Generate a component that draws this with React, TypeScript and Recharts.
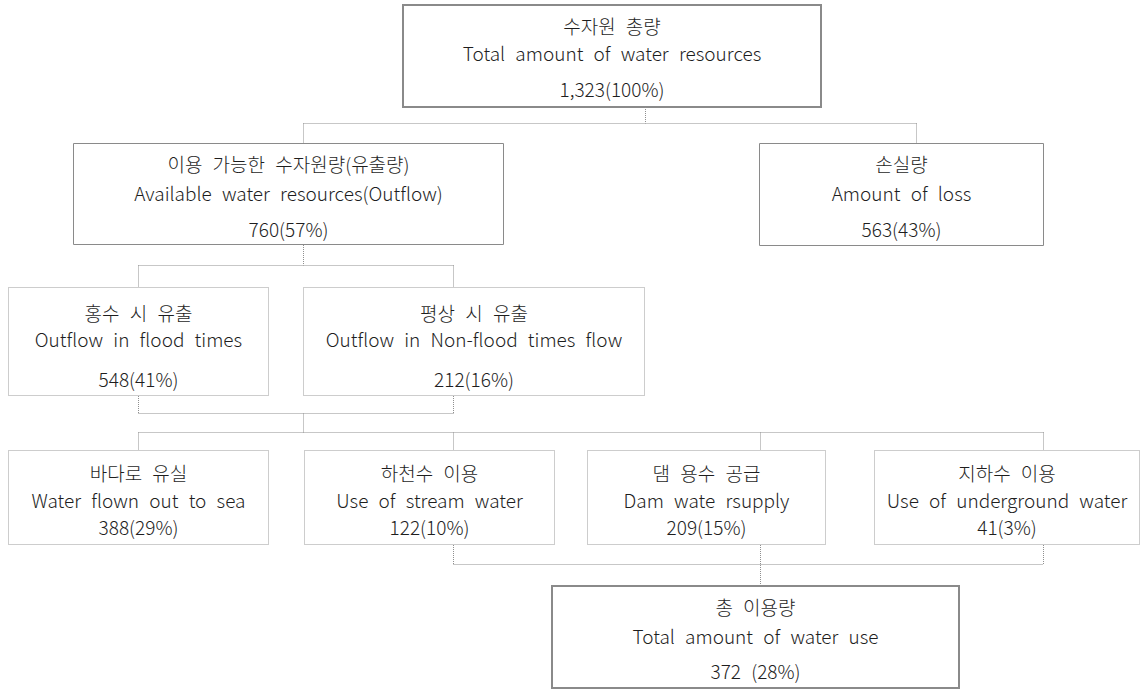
import { ScatterChart, Scatter, XAxis, YAxis, ReferenceArea, ReferenceLine } from 'recharts';

// node texts and values
const nodeKo = [
  '수자원 총량',
  '이용 가능한 수자원량(유출량)',
  '손실량',
  '홍수 시 유출',
  '평상 시 유출',
  '바다로 유실',
  '하천수 이용',
  '댐 용수 공급',
  '지하수 이용',
  '총 이용량',
];
const nodeEn = [
  'Total amount of water resources',
  'Available water resources(Outflow)',
  'Amount of loss',
  'Outflow in flood times',
  'Outflow in Non-flood times flow',
  'Water flown out to sea',
  'Use of stream water',
  'Dam wate rsupply',
  'Use of underground water',
  'Total amount of water use',
];
const nodeAmount = [1323, 760, 563, 548, 212, 388, 122, 209, 41, 372];
const nodeShare = [100, 57, 43, 41, 16, 29, 10, 15, 3, 28];
const nodeValueGap = ['', '', '', '', '', '', '', '', '', ' '];

// box layout in chart units (0..1140 x 0..689, y downward)
const boxes = [
  { x1: 403, x2: 821, y1: 5, y2: 107, lines: [25, 52, 88], kind: 'thick' },
  { x1: 73.5, x2: 503.5, y1: 143.5, y2: 244.5, lines: [163, 192, 228], kind: 'solid' },
  { x1: 759.5, x2: 1043.5, y1: 143.5, y2: 245.5, lines: [163, 192, 228], kind: 'solid' },
  { x1: 8.5, x2: 268.5, y1: 287.5, y2: 395.5, lines: [312, 338, 378], kind: 'dotted' },
  { x1: 303.5, x2: 644.5, y1: 287.5, y2: 395.5, lines: [312, 338, 378], kind: 'dotted' },
  { x1: 8.5, x2: 268.5, y1: 450.5, y2: 544.5, lines: [472, 499, 526], kind: 'dotted' },
  { x1: 304.5, x2: 554.5, y1: 450.5, y2: 544.5, lines: [472, 499, 526], kind: 'dotted' },
  { x1: 587.5, x2: 825.5, y1: 450.5, y2: 544.5, lines: [472, 499, 526], kind: 'dotted' },
  { x1: 874.5, x2: 1139.5, y1: 450.5, y2: 544.5, lines: [472, 499, 526], kind: 'dotted' },
  { x1: 552, x2: 959, y1: 586, y2: 688, lines: [606, 635, 670], kind: 'thick' },
];

// connector segments [x1, y1, x2, y2]
const connectors = [
  [645.5, 107, 645.5, 123.5],
  [303.5, 123.5, 916.5, 123.5],
  [303.5, 123.5, 303.5, 143],
  [916.5, 123.5, 916.5, 143],
  [303.5, 245, 303.5, 265.5],
  [138.5, 265.5, 453.5, 265.5],
  [138.5, 265.5, 138.5, 287],
  [453.5, 265.5, 453.5, 287],
  [138.5, 396, 138.5, 413.5],
  [453.5, 396, 453.5, 413.5],
  [138.5, 413.5, 453.5, 413.5],
  [303.5, 413.5, 303.5, 432.5],
  [138.5, 432.5, 1043.5, 432.5],
  [138.5, 432.5, 138.5, 450],
  [453.5, 432.5, 453.5, 450],
  [760.5, 432.5, 760.5, 450],
  [1043.5, 432.5, 1043.5, 450],
  [453.5, 545, 453.5, 564.5],
  [1043.5, 545, 1043.5, 564.5],
  [453.5, 564.5, 1043.5, 564.5],
  [760.5, 545, 760.5, 585],
];

const textPoints = boxes.flatMap((b, i) => {
  const cx = (b.x1 + b.x2) / 2;
  const value = `${nodeAmount[i].toLocaleString('en-US')}${nodeValueGap[i]}(${nodeShare[i]}%)`;
  return [nodeKo[i], nodeEn[i], value].map((text, j) => ({ x: cx, y: b.lines[j], text }));
});

const FONT = '"Noto Sans CJK KR", "Noto Sans", sans-serif';

function LabelShape(props: any) {
  const { cx, cy, payload } = props;
  return (
    <text
      x={cx}
      y={cy}
      textAnchor="middle"
      dominantBaseline="central"
      fontFamily={FONT}
      fontSize={19}
      fontWeight={300}
      fill="#1e1e1e"
      style={{ wordSpacing: '6px' }}
    >
      {payload.text}
    </text>
  );
}

export default function App() {
  return (
    <div style={{ position: 'absolute', left: 0, top: 0, width: 1140, height: 689, background: '#fff' }}>
      <ScatterChart width={1140} height={689} margin={{ top: 0, right: 0, bottom: 0, left: 0 }}>
        <XAxis type="number" dataKey="x" domain={[0, 1140]} hide />
        <YAxis type="number" dataKey="y" domain={[0, 689]} reversed hide />
        {connectors.map((c, i) => (
          <ReferenceLine
            key={`c${i}`}
            segment={[{ x: c[0], y: c[1] }, { x: c[2], y: c[3] }]}
            stroke="#8f8f8f"
            strokeWidth={1}
            strokeDasharray="1 1"
          />
        ))}
        {boxes.map((b, i) => (
          <ReferenceArea
            key={`b${i}`}
            x1={b.x1}
            x2={b.x2}
            y1={b.y1}
            y2={b.y2}
            fill="#fff"
            fillOpacity={1}
            stroke={b.kind === 'dotted' ? '#9a9a9a' : '#8a8a8a'}
            strokeWidth={b.kind === 'thick' ? 2 : 1}
            strokeDasharray={b.kind === 'dotted' ? '1 1' : undefined}
          />
        ))}
        <Scatter data={textPoints} shape={LabelShape} isAnimationActive={false} />
      </ScatterChart>
    </div>
  );
}
